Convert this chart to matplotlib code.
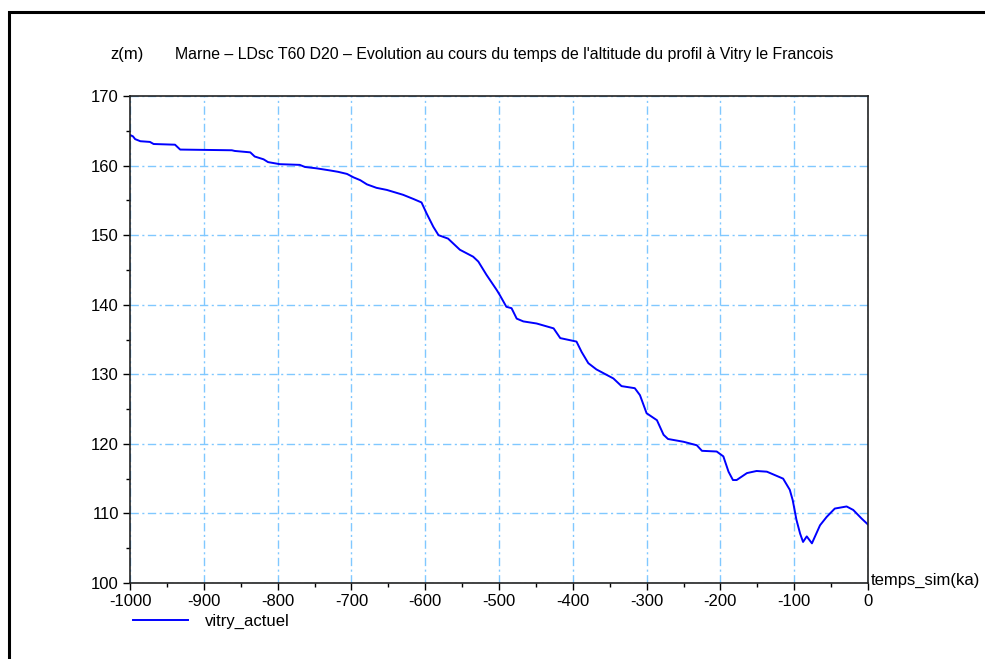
import matplotlib
matplotlib.use("Agg")
import matplotlib.pyplot as plt
from matplotlib import font_manager
from matplotlib.patches import Rectangle
from matplotlib.ticker import MultipleLocator

# pick a narrow font if there is one
names = set(f.name for f in font_manager.fontManager.ttflist)
font = "DejaVu Sans"
for cand in ["Liberation Sans Narrow", "DejaVu Sans Condensed", "Liberation Sans"]:
    if cand in names:
        font = cand
        break
plt.rcParams['font.family'] = [font, 'DejaVu Sans']
plt.rcParams['axes.unicode_minus'] = False

# Data: time (ka) and altitude (m)
temps = [-1000, -996, -993, -986, -973, -968, -939, -932, -862, -858, -837, -831, -819,
         -813, -797, -770, -763, -747, -729, -718, -706, -697, -688, -679, -666, -652,
         -630, -616, -605, -598, -589, -582, -569, -562, -553, -535, -528, -517, -503,
         -499, -490, -483, -476, -467, -449, -426, -417, -395, -388, -379, -368, -345,
         -334, -316, -309, -300, -286, -277, -271, -250, -232, -225, -205, -196, -189,
         -183, -178, -164, -151, -137, -126, -115, -106, -102, -97, -92, -88, -83, -76,
         -65, -56, -45, -29, -20, -9, -2, 0]
altitude = [164.4, 164.2, 163.8, 163.5, 163.4, 163.1, 163.0, 162.3, 162.2, 162.1, 161.9,
            161.3, 160.9, 160.5, 160.2, 160.1, 159.8, 159.6, 159.3, 159.1, 158.8, 158.3,
            157.9, 157.3, 156.8, 156.5, 155.8, 155.2, 154.7, 153.1, 151.2, 150.0, 149.5,
            148.8, 147.9, 146.9, 146.2, 144.3, 142.1, 141.4, 139.7, 139.5, 138.0, 137.6,
            137.3, 136.6, 135.2, 134.7, 133.2, 131.6, 130.7, 129.4, 128.3, 128.0, 127.0,
            124.4, 123.4, 121.3, 120.7, 120.3, 119.8, 119.0, 118.9, 118.2, 116.0, 114.8,
            114.8, 115.8, 116.1, 116.0, 115.5, 115.0, 113.4, 111.9, 109.1, 107.1, 105.9,
            106.7, 105.7, 108.3, 109.5, 110.7, 111.0, 110.5, 109.3, 108.6, 108.4]

W, H = 985, 659
fig = plt.figure(figsize=(W / 100, H / 100), dpi=100)
ax = fig.add_axes([130 / W, 1 - 583 / H, 738 / W, 487 / H])

line, = ax.plot(temps, altitude, color="#0000ff", linewidth=1.4, label="vitry_actuel")

ax.set_xlim(-1000, 0)
ax.set_ylim(100, 170)
ax.xaxis.set_major_locator(MultipleLocator(100))
ax.xaxis.set_minor_locator(MultipleLocator(50))
ax.yaxis.set_major_locator(MultipleLocator(10))
ax.yaxis.set_minor_locator(MultipleLocator(5))
ax.tick_params(which="major", direction="out", length=5, width=1, labelsize=12, pad=3)
ax.tick_params(which="minor", direction="out", length=3, width=1)
ax.grid(True, which="major", color="#80c8ff", linestyle=(0, (6, 2.5, 1.5, 2.5)), linewidth=1)
for s in ax.spines.values():
    s.set_linewidth(1.2)
    s.set_color("#222222")

# title and axis names
fig.text(110 / W, 1 - 55 / H, "z(m)", fontsize=12, va="center", ha="left")
fig.text(175 / W, 1 - 55 / H,
         "Marne – LDsc T60 D20 – Evolution au cours du temps de l'altitude du profil à Vitry le Francois",
         fontsize=11.4, va="center", ha="left")
fig.text(871 / W, 1 - 580 / H, "temps_sim(ka)", fontsize=12, va="center", ha="left")

ax.legend(handles=[line], loc="upper left", bbox_to_anchor=(133 / W, 1 - 614 / H),
          bbox_transform=fig.transFigure, frameon=False, fontsize=12,
          handlelength=3.3, handletextpad=1.0, borderpad=0, borderaxespad=0)

# black frame round the picture
fig.patches.append(Rectangle((9 / W, -0.05), 1.1, 1 - 12 / H + 0.05, transform=fig.transFigure,
                             fill=False, edgecolor="black", linewidth=2.2))

plt.savefig("out.png", dpi=100)
